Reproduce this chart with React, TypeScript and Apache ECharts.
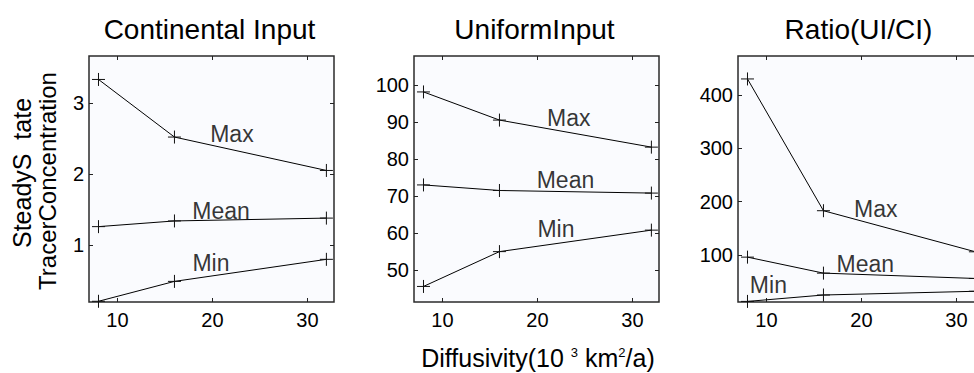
import React, { useEffect, useRef } from "react";
import * as echarts from "echarts";

const diffusivity = [8, 16, 32];
const xTicks = [10, 20, 30];

const ciMax = [3.33, 2.52, 2.05];
const ciMean = [1.26, 1.34, 1.38];
const ciMin = [0.21, 0.49, 0.8];
const ciTicks = [1, 2, 3];

const uiMax = [98.1, 90.5, 83.2];
const uiMean = [73.0, 71.5, 70.8];
const uiMin = [45.6, 55.0, 60.8];
const uiTicks = [50, 60, 70, 80, 90, 100];

const ratioMax = [430, 183, 106];
const ratioMean = [96, 66, 56];
const ratioMin = [13, 25, 32];
const ratioTicks = [100, 200, 300, 400];

const titles = ["Continental Input", "UniformInput", "Ratio(UI/CI)"];
const labelNames = ["Max", "Mean", "Min"];
// label anchor positions in data coordinates [x, y] for Max, Mean, Min
const ciLabelPos = [[22.05, 2.556], [20.9, 1.48], [19.84, 0.754]];
const uiLabelPos = [[23.3, 91.1], [22.95, 74.3], [21.95, 61.2]];
const ratioLabelPos = [[21.5, 187], [20.4, 84], [10.2, 44.7]];

const FONT = "'Liberation Sans', Arial, Helvetica, sans-serif";
const PLUS = "path://M0,6L12,6M6,0L6,12";
const CANVAS_W = 1000;

export default function App() {
  const ref = useRef<HTMLDivElement>(null);
  useEffect(() => {
    if (!ref.current) return;
    const chart = echarts.init(ref.current, null, { renderer: "svg" });

    const W = 245;
    const TOP = 56;
    const H = 246;
    const panels = [
      { left: 89, yMin: 0.2, yMax: 3.66, ticks: ciTicks, series: [ciMax, ciMean, ciMin], labels: ciLabelPos },
      { left: 414, yMin: 41.4, yMax: 107.8, ticks: uiTicks, series: [uiMax, uiMean, uiMin], labels: uiLabelPos },
      { left: 738, yMin: 11.9, yMax: 473, ticks: ratioTicks, series: [ratioMax, ratioMean, ratioMin], labels: ratioLabelPos },
    ];

    const grid: any[] = [];
    const xAxis: any[] = [];
    const yAxis: any[] = [];
    const series: any[] = [];
    const graphic: any[] = [];

    const tickStyle = { inside: true, length: 4, lineStyle: { color: "#222", width: 1 } };
    const labelStyle = { fontSize: 20, color: "#000", fontFamily: FONT };

    panels.forEach((p, i) => {
      grid.push({
        left: p.left, top: TOP, width: W, height: H,
        show: true, backgroundColor: "#fafbfe", borderColor: "#2b2b2b", borderWidth: 1.5,
      });
      xAxis.push({
        gridIndex: i, type: "value", min: 7, max: 32.8, position: "bottom",
        axisLine: { show: false }, splitLine: { show: false },
        axisTick: { ...tickStyle, customValues: xTicks },
        axisLabel: { ...labelStyle, margin: 8, customValues: xTicks },
      });
      xAxis.push({
        gridIndex: i, type: "value", min: 7, max: 32.8, position: "top",
        axisLine: { show: false }, splitLine: { show: false },
        axisTick: { ...tickStyle, customValues: xTicks },
        axisLabel: { show: false },
      });
      yAxis.push({
        gridIndex: i, type: "value", min: p.yMin, max: p.yMax, position: "left",
        axisLine: { show: false }, splitLine: { show: false },
        axisTick: { ...tickStyle, customValues: p.ticks },
        axisLabel: { ...labelStyle, margin: 5, customValues: p.ticks },
      });
      yAxis.push({
        gridIndex: i, type: "value", min: p.yMin, max: p.yMax, position: "right",
        axisLine: { show: false }, splitLine: { show: false },
        axisTick: { ...tickStyle, customValues: p.ticks },
        axisLabel: { show: false },
      });
      p.series.forEach((vals, k) => {
        series.push({
          type: "line",
          name: `${titles[i]} ${labelNames[k]}`,
          xAxisIndex: i * 2, yAxisIndex: i * 2,
          data: diffusivity.map((x, j) => [x, vals[j]]),
          symbol: PLUS, symbolSize: 13,
          itemStyle: { color: "transparent", borderColor: "#111", borderWidth: 1 },
          lineStyle: { color: "#000", width: 1 },
          silent: true,
        });
      });
      series.push({
        type: "scatter",
        xAxisIndex: i * 2, yAxisIndex: i * 2,
        symbolSize: 0,
        data: p.labels.map((pos, k) => [pos[0], pos[1], labelNames[k]]),
        label: {
          show: true, position: "inside",
          formatter: (d: any) => d.value[2],
          fontSize: 23, color: "#000", fontFamily: FONT,
        },
        silent: true,
      });
      graphic.push({
        type: "text", x: p.left + W / 2 - 2, y: 29,
        style: { text: titles[i], font: `28px ${FONT}`, fill: "#000", align: "center", verticalAlign: "middle" },
      });
    });

    graphic.push({
      type: "text", x: 22, y: 173, rotation: Math.PI / 2,
      style: { text: "SteadyS  tate", font: `25px ${FONT}`, fill: "#000", align: "center", verticalAlign: "middle" },
    });
    graphic.push({
      type: "text", x: 47, y: 181, rotation: Math.PI / 2,
      style: { text: "TracerConcentration", font: `24px ${FONT}`, fill: "#000", align: "center", verticalAlign: "middle" },
    });
    graphic.push({
      type: "text", x: 538, y: 358,
      style: {
        text: "{a|Diffusivity(10 }{s|3}{a| km}{s|2}{a|/a)}",
        align: "center", verticalAlign: "middle",
        rich: {
          a: { fontSize: 25, fontFamily: FONT, color: "#000" },
          s: { fontSize: 13, fontFamily: FONT, color: "#000", verticalAlign: "top" },
        },
      },
    });

    chart.setOption({
      animation: false,
      backgroundColor: "#ffffff",
      grid, xAxis, yAxis, series, graphic,
    });
    return () => chart.dispose();
  }, []);
  return (
    <div style={{ position: "fixed", left: 0, top: 0, width: 974, height: 373, overflow: "hidden" }}>
      <div ref={ref} style={{ width: CANVAS_W, height: 373 }} />
    </div>
  );
}
